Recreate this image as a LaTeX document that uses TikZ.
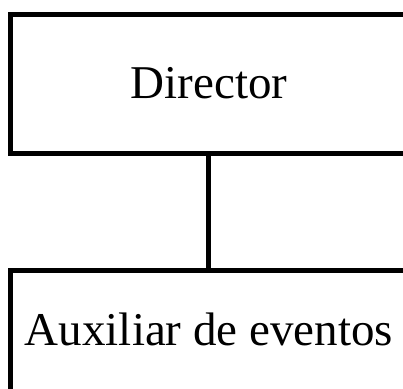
\documentclass[tikz,border=0pt]{standalone}
\usepackage{fontspec}
\setmainfont{Liberation Serif}

\tikzset{
	orgbox/.style={draw, line width=2.5pt, rectangle, minimum width=198pt, inner sep=0pt, font=\fontsize{23.5}{28}\selectfont},
	orgline/.style={line width=2.5pt}
}

\begin{document}
\begin{tikzpicture}[x=0.5pt, y=-0.5pt]
		\useasboundingbox (0, 0) rectangle (403, 388);
		\clip (0, 0) rectangle (403, 388);
		
		\node[orgbox, minimum height=69.5pt] (director) at (209, 83.5) {Director};
		\node[orgbox, minimum height=75pt, text height=8pt, text depth=8pt] (auxiliar) at (209, 345) {Auxiliar de eventos};
		
		\draw[orgline] (director) -- (auxiliar);
	\end{tikzpicture}
\end{document}
